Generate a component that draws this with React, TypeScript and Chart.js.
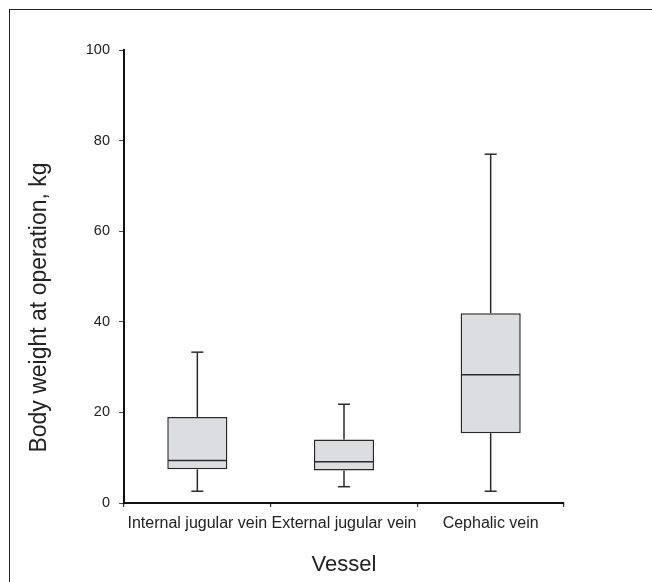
import React, { useEffect, useRef } from "react";
import { Chart, registerables } from "chart.js";

Chart.register(...registerables);

const categories = ["Internal jugular vein", "External jugular vein", "Cephalic vein"];
const whiskerLow = [2.6, 3.6, 2.6];
const q1 = [7.45, 7.2, 15.4];
const median = [9.4, 9.1, 28.3];
const q3 = [19.0, 14.0, 41.9];
const whiskerHigh = [33.3, 21.8, 77.0];
const yMin = 0;
const yMax = 100;
const yStep = 20;
const yTitle = "Body weight at operation, kg";
const xTitle = "Vessel";

const FONT = "'Liberation Sans', Arial, Helvetica, sans-serif";
const LINE = "#2a2a2a";

const boxPlugin = {
  id: "boxWhiskers",
  afterDatasetsDraw(chart: any) {
    const meta = chart.getDatasetMeta(0);
    const ys = chart.scales.y;
    const ctx = chart.ctx;
    ctx.save();
    ctx.strokeStyle = LINE;
    ctx.lineWidth = 1.5;
    const line = (x1: number, y1: number, x2: number, y2: number) => {
      ctx.beginPath();
      ctx.moveTo(x1, y1);
      ctx.lineTo(x2, y2);
      ctx.stroke();
    };
    meta.data.forEach((bar: any, i: number) => {
      const x = bar.x;
      const half = bar.width / 2;
      const cap = bar.width * 0.1;
      const yHi = ys.getPixelForValue(whiskerHigh[i]);
      const yQ3 = ys.getPixelForValue(q3[i]);
      const yQ1 = ys.getPixelForValue(q1[i]);
      const yLo = ys.getPixelForValue(whiskerLow[i]);
      const yMed = ys.getPixelForValue(median[i]);
      line(x, yQ3, x, yHi);
      line(x - cap, yHi, x + cap, yHi);
      line(x, yQ1, x, yLo);
      line(x - cap, yLo, x + cap, yLo);
      line(x - half + 0.75, yMed, x + half - 0.75, yMed);
    });
    ctx.restore();
  },
};

const yTitlePlugin = {
  id: "yTitleDraw",
  afterDraw(chart: any) {
    const ctx = chart.ctx;
    const area = chart.chartArea;
    const cy = (area.top + area.bottom) / 2 + 31;
    ctx.save();
    ctx.translate(40, cy);
    ctx.rotate(-Math.PI / 2);
    ctx.fillStyle = "#222";
    ctx.font = `23px ${FONT}`;
    ctx.textAlign = "center";
    ctx.textBaseline = "middle";
    ctx.fillText(yTitle, 0, 0);
    ctx.restore();
  },
};

export default function App() {
  const ref = useRef<HTMLCanvasElement>(null);
  useEffect(() => {
    if (!ref.current) return;
    const chart = new Chart(ref.current, {
      type: "bar",
      data: {
        labels: categories,
        datasets: [
          {
            data: categories.map((_, i) => [q1[i], q3[i]]) as any,
            backgroundColor: "#dcdde0",
            borderColor: LINE,
            borderWidth: 1.5,
            borderSkipped: false,
            barPercentage: 0.41,
            categoryPercentage: 1,
          },
        ],
      },
      options: {
        responsive: false,
        animation: false,
        devicePixelRatio: 1,
        layout: { padding: { top: 50, right: 88, left: 0, bottom: 0 } },
        plugins: { legend: { display: false }, tooltip: { enabled: false } },
        scales: {
          x: {
            afterFit: (s: any) => {
              s.height = 79;
            },
            grid: {
              offset: true,
              drawOnChartArea: false,
              drawTicks: true,
              tickLength: 4,
              color: "#333",
              lineWidth: 1.2,
            },
            border: { display: true, color: "#111", width: 2 },
            ticks: {
              padding: 7,
              color: "#222",
              font: { family: FONT, size: 16 },
              maxRotation: 0,
              autoSkip: false,
            },
            title: {
              display: true,
              text: xTitle,
              color: "#222",
              font: { family: FONT, size: 22 },
              padding: { top: 0, bottom: 4 },
            },
          },
          y: {
            min: yMin,
            max: yMax,
            afterFit: (s: any) => {
              s.width = 124;
            },
            grid: {
              drawOnChartArea: false,
              drawTicks: true,
              tickLength: 5,
              color: "#444",
              lineWidth: 1,
            },
            border: { display: true, color: "#111", width: 2 },
            ticks: {
              stepSize: yStep,
              padding: 9,
              color: "#222",
              font: { family: FONT, size: 14.5 },
            },
          },
        },
      },
      plugins: [boxPlugin, yTitlePlugin],
    });
    return () => chart.destroy();
  }, []);

  return (
    <div
      style={{
        position: "absolute",
        left: 0,
        top: 0,
        width: 652,
        height: 582,
        overflow: "hidden",
        background: "#fff",
      }}
    >
      <div
        style={{
          position: "absolute",
          left: 9,
          top: 9,
          width: 800,
          height: 800,
          border: "1.5px solid #222",
        }}
      />
      <canvas
        ref={ref}
        width={652}
        height={582}
        style={{ position: "absolute", left: 0, top: 0, width: 652, height: 582 }}
      />
    </div>
  );
}
